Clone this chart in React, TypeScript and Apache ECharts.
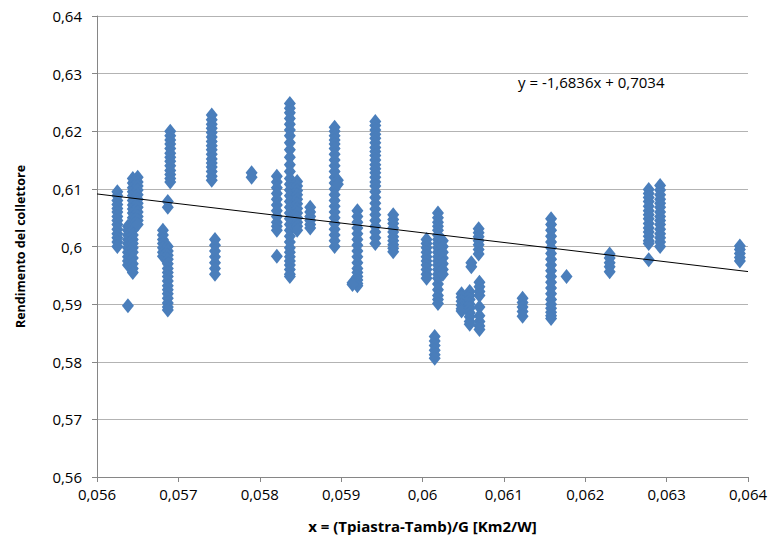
import React, { useEffect, useRef } from "react";
import * as echarts from "echarts";

// Column x positions and their y values
const colX = [
  0.05625, 0.05638, 0.05644, 0.0565, 0.05681, 0.05687, 0.0569, 0.05741, 0.05745, 0.0579,
  0.05821, 0.05837, 0.05846, 0.05862, 0.05892, 0.05896, 0.0592, 0.05914, 0.05942, 0.05964,
  0.06019, 0.06005, 0.06025, 0.06015, 0.06069, 0.0606, 0.06048, 0.06058, 0.0607, 0.06123,
  0.06158, 0.06177, 0.0623, 0.06278, 0.06292, 0.0639,
];
const colY: number[][] = [
  [0.6095, 0.6088, 0.608, 0.6073, 0.6066, 0.606, 0.6052, 0.6045, 0.6038, 0.603, 0.6022, 0.6015, 0.6008, 0.6],
  [0.6035, 0.6028, 0.602, 0.6012, 0.6005, 0.5998, 0.599, 0.5982, 0.5975, 0.5968, 0.5897],
  [0.6118, 0.611, 0.6102, 0.6095, 0.6088, 0.608, 0.6072, 0.6065, 0.6058, 0.605, 0.6042, 0.6035, 0.6028, 0.602, 0.6012, 0.6005, 0.5998, 0.599, 0.598, 0.597, 0.5962, 0.5955],
  [0.612, 0.6112, 0.6105, 0.6098, 0.609, 0.6082, 0.6075, 0.6068, 0.606, 0.6052, 0.6045, 0.6038],
  [0.6028, 0.602, 0.6012, 0.6005, 0.5998, 0.599, 0.5983],
  [0.6078, 0.6068, 0.6, 0.5992, 0.5985, 0.5978, 0.597, 0.5962, 0.5955, 0.5948, 0.594, 0.5932, 0.5925, 0.5918, 0.591, 0.5902, 0.5895, 0.589],
  [0.62, 0.6192, 0.6185, 0.6178, 0.617, 0.6162, 0.6155, 0.6148, 0.614, 0.6132, 0.6125, 0.6118, 0.6112],
  [0.6228, 0.622, 0.6212, 0.6205, 0.6198, 0.619, 0.6182, 0.6175, 0.6168, 0.616, 0.6152, 0.6145, 0.6138, 0.613, 0.6122, 0.6115],
  [0.6012, 0.6002, 0.5992, 0.5982, 0.5972, 0.5962, 0.5952],
  [0.6128, 0.612],
  [0.6122, 0.6112, 0.6102, 0.6092, 0.6082, 0.6072, 0.6062, 0.6052, 0.6042, 0.6035, 0.6028, 0.5983],
  [0.6248, 0.624, 0.6232, 0.6222, 0.6212, 0.6202, 0.6192, 0.618, 0.6168, 0.6155, 0.6142, 0.613, 0.6118, 0.6108, 0.6098, 0.6088, 0.6078, 0.6068, 0.6058, 0.6048, 0.6038, 0.6028, 0.6018, 0.6008, 0.5998, 0.599, 0.5982, 0.5975, 0.5968, 0.596, 0.5952, 0.5948],
  [0.6113, 0.6105, 0.6097, 0.609, 0.6082, 0.6074, 0.6066, 0.6058, 0.605, 0.6042, 0.6035, 0.6028],
  [0.6068, 0.606, 0.6052, 0.6045, 0.6038, 0.6032],
  [0.6207, 0.62, 0.6192, 0.6185, 0.6178, 0.617, 0.616, 0.615, 0.614, 0.613, 0.612, 0.611, 0.61, 0.609, 0.608, 0.607, 0.606, 0.605, 0.604, 0.603, 0.602, 0.601, 0.6],
  [0.6115, 0.6108],
  [0.6062, 0.6052, 0.6042, 0.6032, 0.6022, 0.6012, 0.6002, 0.5992, 0.5982, 0.5972, 0.5962, 0.5955, 0.5948, 0.5942, 0.5936, 0.5932],
  [0.5937, 0.5934],
  [0.6217, 0.621, 0.6202, 0.6195, 0.6188, 0.618, 0.6172, 0.6165, 0.6158, 0.615, 0.6142, 0.6135, 0.6128, 0.612, 0.6112, 0.6105, 0.6095, 0.6085, 0.6075, 0.6065, 0.6055, 0.6045, 0.6035, 0.6025, 0.6015, 0.6005],
  [0.6055, 0.6047, 0.604, 0.6032, 0.6025, 0.6017, 0.601, 0.6003, 0.5997, 0.5991],
  [0.6058, 0.605, 0.6042, 0.6035, 0.6028, 0.602, 0.6012, 0.6005, 0.5998, 0.599, 0.5982, 0.5975, 0.5968, 0.596, 0.5952, 0.5945, 0.5935, 0.5925, 0.5915, 0.5908, 0.5901],
  [0.6012, 0.6005, 0.5998, 0.599, 0.5982, 0.5975, 0.5968, 0.596, 0.5952, 0.5945],
  [0.601, 0.6, 0.599, 0.598, 0.597, 0.596, 0.5952],
  [0.5844, 0.5836, 0.5828, 0.582, 0.5812, 0.5806],
  [0.6031, 0.6024, 0.6017, 0.601, 0.6003, 0.5995, 0.5987],
  [0.5972, 0.5965],
  [0.5918, 0.5912, 0.5905, 0.5898, 0.5892, 0.5888],
  [0.5922, 0.5915, 0.5908, 0.59, 0.5893, 0.5885, 0.5878, 0.587, 0.5865],
  [0.5938, 0.593, 0.5922, 0.5915, 0.5895, 0.588, 0.587, 0.5862, 0.5856],
  [0.591, 0.5903, 0.5895, 0.5887, 0.5879],
  [0.6048, 0.6038, 0.6028, 0.6018, 0.6008, 0.5998, 0.5988, 0.5978, 0.5968, 0.5958, 0.5948, 0.5938, 0.5928, 0.5918, 0.5908, 0.59, 0.5893, 0.5886, 0.588, 0.5875],
  [0.5948],
  [0.5987, 0.598, 0.5972, 0.5965, 0.5956],
  [0.6099, 0.6092, 0.6085, 0.6078, 0.607, 0.6062, 0.6055, 0.6048, 0.604, 0.6032, 0.6025, 0.6018, 0.601, 0.6005, 0.5977],
  [0.6106, 0.6098, 0.609, 0.6082, 0.6075, 0.6068, 0.606, 0.6052, 0.6045, 0.6038, 0.603, 0.6022, 0.6015, 0.6008, 0.6],
  [0.6001, 0.5995, 0.5988, 0.5981, 0.5975],
];

// Linear trendline coefficients
const trendSlope = -1.6836;
const trendIntercept = 0.7034;
const trendRange = [0.056, 0.064];
const trendLabel = "y = -1,6836x + 0,7034";

const xTitle = "x = (Tpiastra-Tamb)/G [Km2/W]";
const yTitle = "Rendimento del collettore";

const FONT = "'Open Sans', sans-serif";

export default function App() {
  const ref = useRef<HTMLDivElement>(null);
  useEffect(() => {
    if (!ref.current) return;
    const chart = echarts.init(ref.current, undefined, { renderer: "svg" });
    const points: number[][] = [];
    colX.forEach((x, i) => colY[i].forEach((y) => points.push([x, y])));
    const trend = trendRange.map((x) => [x, trendSlope * x + trendIntercept]);
    const fmt = (v: number) => String(Number(v.toFixed(4))).replace(".", ",");
    chart.setOption({
      animation: false,
      backgroundColor: "#ffffff",
      grid: { left: 97, right: 24, top: 16, bottom: 59, containLabel: false },
      xAxis: {
        type: "value",
        min: 0.056,
        max: 0.064,
        interval: 0.001,
        name: xTitle,
        nameLocation: "middle",
        nameGap: 41,
        nameTextStyle: { fontFamily: FONT, fontSize: 15, fontWeight: "bold", color: "#000" },
        axisLine: { show: true, lineStyle: { color: "#868686", width: 1 } },
        axisTick: { show: true, inside: false, length: 5, lineStyle: { color: "#868686" } },
        axisLabel: { formatter: fmt, fontFamily: FONT, fontSize: 15, color: "#000", margin: 9 },
        splitLine: { show: false },
      },
      yAxis: {
        type: "value",
        min: 0.56,
        max: 0.64,
        interval: 0.01,
        name: yTitle,
        nameLocation: "middle",
        nameGap: 70,
        nameRotate: 90,
        nameTextStyle: { fontFamily: FONT, fontSize: 12.5, fontWeight: "bold", color: "#000" },
        axisLine: { show: true, lineStyle: { color: "#868686", width: 1 } },
        axisTick: { show: true, inside: false, length: 5, lineStyle: { color: "#868686" } },
        axisLabel: { formatter: fmt, fontFamily: FONT, fontSize: 15, color: "#000", margin: 15 },
        splitLine: { show: true, lineStyle: { color: "#b3b3b3", width: 1 } },
      },
      graphic: [
        {
          type: "text",
          left: 518,
          top: 74,
          style: { text: trendLabel, fontFamily: FONT, fontSize: 15, fill: "#000" },
        },
      ],
      series: [
        {
          type: "scatter",
          data: points,
          symbol: "diamond",
          symbolSize: [12, 15],
          itemStyle: { color: "#4a7ebb", opacity: 1 },
          z: 2,
        },
        {
          type: "line",
          data: trend,
          symbol: "none",
          lineStyle: { color: "#000", width: 1 },
          z: 3,
        },
      ],
    });
    return () => chart.dispose();
  }, []);
  return <div ref={ref} style={{ position: "fixed", left: 0, top: 0, width: 772, height: 538 }} />;
}
